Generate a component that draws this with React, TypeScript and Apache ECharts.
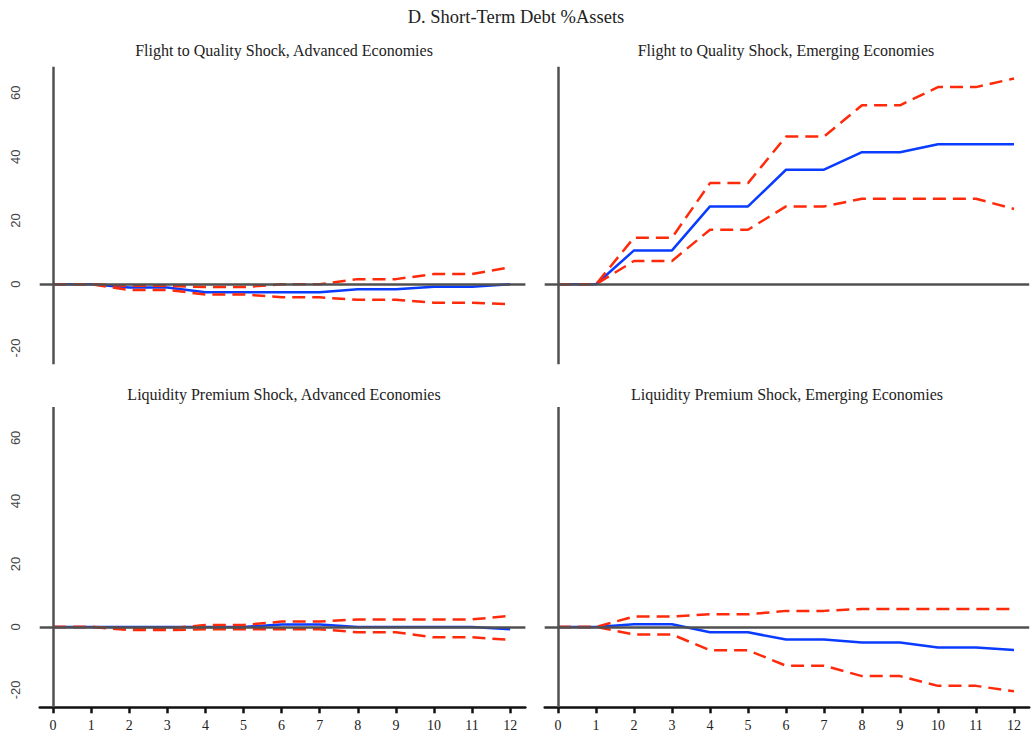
import React, { useEffect, useRef } from "react";
import * as echarts from "echarts";

const mainTitle = "D. Short-Term Debt %Assets";
const panelTitles = [
  "Flight to Quality Shock, Advanced Economies",
  "Flight to Quality Shock, Emerging Economies",
  "Liquidity Premium Shock, Advanced Economies",
  "Liquidity Premium Shock, Emerging Economies",
];
const horizons = [0, 1, 2, 3, 4, 5, 6, 7, 8, 9, 10, 11, 12];
const yTicks = [-20, 0, 20, 40, 60];

const ftqAdvMid = [0, 0, -1.0, -1.0, -2.5, -2.5, -2.5, -2.5, -1.6, -1.6, -0.8, -0.8, 0];
const ftqAdvUp = [0, 0, -0.5, -0.5, -0.9, -0.9, 0, 0, 1.6, 1.6, 3.2, 3.2, 5.3];
const ftqAdvLo = [0, 0, -1.8, -1.8, -3.2, -3.2, -4.1, -4.1, -4.9, -4.9, -5.8, -5.8, -6.3];

const ftqEmMid = [0, 0, 10.6, 10.6, 24.4, 24.4, 35.9, 35.9, 41.4, 41.4, 43.9, 43.9, 43.9];
const ftqEmUp = [0, 0, 14.6, 14.6, 31.7, 31.7, 46.3, 46.3, 56.1, 56.1, 61.8, 61.8, 64.5];
const ftqEmLo = [0, 0, 7.3, 7.3, 17.1, 17.1, 24.4, 24.4, 26.8, 26.8, 26.8, 26.8, 23.6];

const lpAdvMid = [0, 0, 0, 0, 0, 0, 0.8, 0.8, 0, 0, 0, 0, -0.7];
const lpAdvUp = [0, 0, -0.5, -0.5, 0.6, 0.6, 1.7, 1.7, 2.4, 2.4, 2.4, 2.4, 3.5];
const lpAdvLo = [0, 0, -1.0, -1.0, -0.7, -0.7, -0.7, -0.7, -1.7, -1.7, -3.3, -3.3, -4.1];

const lpEmMid = [0, 0, 0.85, 0.85, -1.7, -1.7, -4.0, -4.0, -4.9, -4.9, -6.5, -6.5, -7.3];
const lpEmUp = [0, 0, 3.3, 3.3, 4.0, 4.0, 5.1, 5.1, 5.7, 5.7, 5.7, 5.7, 5.7];
const lpEmLo = [0, 0, -2.4, -2.4, -7.4, -7.4, -12.3, -12.3, -15.6, -15.6, -18.7, -18.7, -20.4];

const panels = [
  { mid: ftqAdvMid, up: ftqAdvUp, lo: ftqAdvLo },
  { mid: ftqEmMid, up: ftqEmUp, lo: ftqEmLo },
  { mid: lpAdvMid, up: lpAdvUp, lo: lpAdvLo },
  { mid: lpEmMid, up: lpEmUp, lo: lpEmLo },
];

const BLUE = "#0a3cff";
const RED = "#ff2a0a";
const AXIS_GRAY = "#505050";
const SERIF = "'Liberation Serif', 'DejaVu Serif', serif";
const SANS = "'Liberation Sans', Arial, sans-serif";

export default function App() {
  const ref = useRef<HTMLDivElement>(null);
  useEffect(() => {
    if (!ref.current) return;
    const chart = echarts.init(ref.current, undefined, { renderer: "svg" });

    const grids = [
      { left: 39.7, top: 66.7, width: 485.7, height: 297.6 },
      { left: 544.7, top: 66.7, width: 484.5, height: 297.6 },
      { left: 39.7, top: 407, width: 485.7, height: 300.3 },
      { left: 544.7, top: 407, width: 484.5, height: 300.3 },
    ];
    const yRanges = [
      [-25.1, 68.2],
      [-25.1, 68.2],
      [-25.5, 69.8],
      [-25.5, 69.8],
    ];

    const xAxes = grids.map((_, i) => {
      const bottom = i >= 2;
      return {
        type: "value",
        gridIndex: i,
        min: -0.35,
        max: 12.4,
        splitLine: { show: false },
        axisLine: {
          show: bottom,
          onZero: false,
          lineStyle: { color: "#111", width: 2.5 },
        },
        axisTick: {
          show: bottom,
          customValues: horizons,
          length: 6,
          lineStyle: { color: "#111", width: 2.5 },
        },
        axisLabel: {
          show: bottom,
          customValues: horizons,
          fontFamily: SERIF,
          fontSize: 14,
          color: "#222",
          margin: 11,
        },
      };
    });

    const yAxes = grids.map((_, i) => {
      const left = i % 2 === 0;
      return {
        type: "value",
        gridIndex: i,
        min: yRanges[i][0],
        max: yRanges[i][1],
        splitLine: { show: false },
        axisLine: { show: false },
        axisTick: { show: false },
        axisLabel: {
          show: left,
          customValues: yTicks,
          rotate: 90,
          fontFamily: SANS,
          fontSize: 13,
          color: "#444",
          margin: 18,
        },
      };
    });

    const series: any[] = [];
    panels.forEach((p, i) => {
      series.push({
        type: "line",
        xAxisIndex: i,
        yAxisIndex: i,
        data: [[0, 0]],
        symbol: "none",
        lineStyle: { width: 0 },
        silent: true,
        z: 1,
        markLine: {
          silent: true,
          symbol: ["none", "none"],
          label: { show: false },
          lineStyle: { color: AXIS_GRAY, width: 2.5, type: "solid" },
          data: [{ yAxis: 0 }, { xAxis: 0 }],
        },
      });
      series.push({
        type: "line",
        xAxisIndex: i,
        yAxisIndex: i,
        data: horizons.map((h, k) => [h, p.mid[k]]),
        symbol: "none",
        lineStyle: { color: BLUE, width: 2.5 },
        z: 2,
      });
      [p.up, p.lo].forEach((band) => {
        series.push({
          type: "line",
          xAxisIndex: i,
          yAxisIndex: i,
          data: horizons.map((h, k) => [h, band[k]]),
          symbol: "none",
          lineStyle: { color: RED, width: 2.5, type: [13, 7] },
          z: 3,
        });
      });
    });

    const titleCenters = [
      [284, 50],
      [786, 50],
      [284, 394],
      [787, 394],
    ];

    const graphic: any[] = [
      {
        type: "text",
        x: 516,
        y: 17,
        style: {
          text: mainTitle,
          fontFamily: SERIF,
          fontSize: 18.5,
          fill: "#222",
          textAlign: "center",
          textVerticalAlign: "middle",
        },
      },
      ...panelTitles.map((t, i) => ({
        type: "text",
        x: titleCenters[i][0],
        y: titleCenters[i][1],
        style: {
          text: t,
          fontFamily: SERIF,
          fontSize: 16,
          fill: "#222",
          textAlign: "center",
          textVerticalAlign: "middle",
        },
      })),
    ];

    chart.setOption({
      animation: false,
      backgroundColor: "#ffffff",
      grid: grids,
      xAxis: xAxes,
      yAxis: yAxes,
      series,
      graphic,
    });
    return () => chart.dispose();
  }, []);

  return (
    <div
      ref={ref}
      style={{ position: "fixed", left: 0, top: 0, width: 1032, height: 740 }}
    />
  );
}
